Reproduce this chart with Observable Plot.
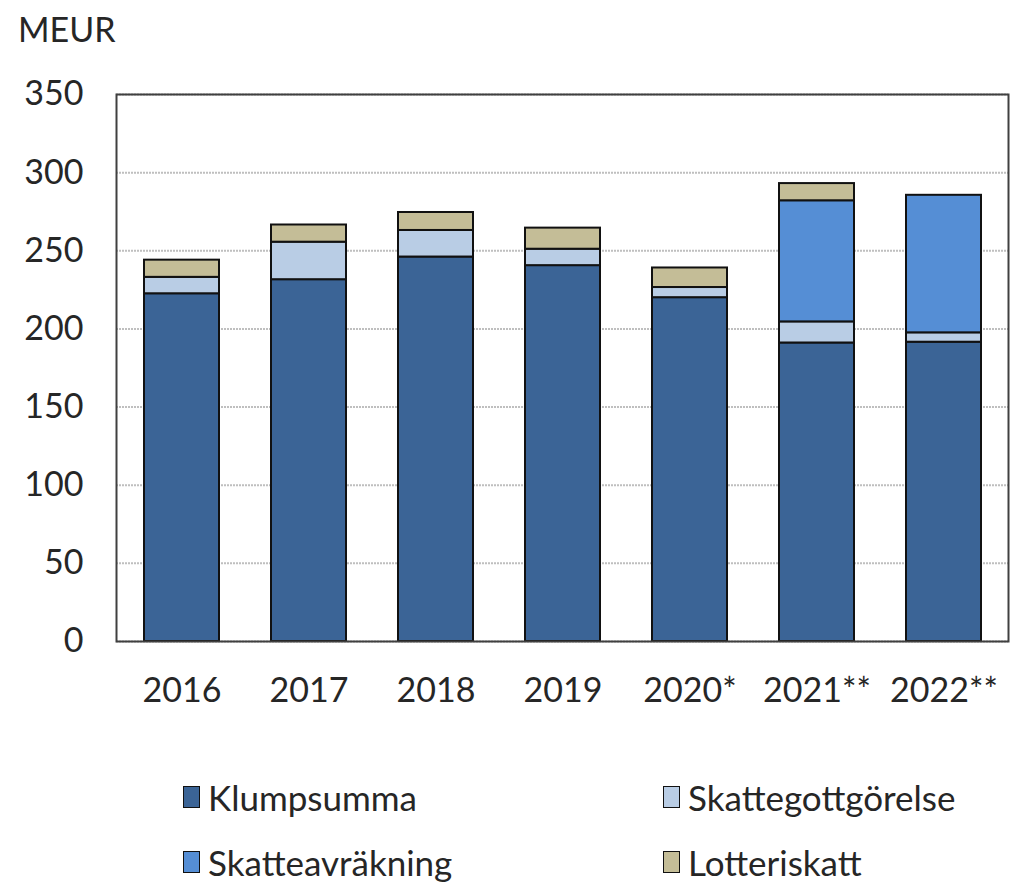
<!DOCTYPE html>
<html>
<head>
<meta charset="utf-8">
<script src="https://cdn.jsdelivr.net/npm/d3@7"></script>
<script src="https://cdn.jsdelivr.net/npm/@observablehq/plot@0.6"></script>
<style>
  html, body { margin: 0; padding: 0; background: #fff; }
  body { width: 1010px; height: 884px; overflow: hidden; font-family: Lato, "Open Sans", sans-serif; color: #262626; }
  #unit { height: 58px; line-height: 58px; padding-left: 18px; font-size: 34px; }
  #legend { position: relative; height: 144px; font-size: 35px; }
  .item { position: absolute; display: flex; align-items: center; height: 40px; }
  .sw { width: 17px; height: 22px; border: 1.5px solid #111; margin-right: 8px; box-sizing: border-box; }
</style>
</head>
<body>
<div id="unit">MEUR</div>
<div id="chart"></div>
<div id="legend"></div>
<script>
const years = ["2016", "2017", "2018", "2019", "2020*", "2021**", "2022**"];
const seriesNames = ["Klumpsumma", "Skattegottgörelse", "Skatteavräkning", "Lotteriskatt"];
const seriesColors = ["#3b6496", "#b9cde5", "#558ed5", "#c4bd97"];
const klumpsumma = [222.5, 231.5, 246, 240.5, 220, 191, 191.5];
const skattegottgorelse = [10.5, 24, 17, 10.5, 6.5, 13.5, 6];
const skatteavrakning = [0, 0, 0, 0, 0, 77.5, 88];
const lotteriskatt = [11, 11, 11.5, 13.5, 12.5, 11, 0];
const yTicks = [0, 50, 100, 150, 200, 250, 300, 350];

const seriesValues = [klumpsumma, skattegottgorelse, skatteavrakning, lotteriskatt];
const data = [];
years.forEach((yr, i) => {
  seriesNames.forEach((s, j) => {
    const v = seriesValues[j][i];
    if (v > 0) data.push({ year: yr, series: s, value: v });
  });
});

const chart = Plot.plot({
  width: 1010,
  height: 682,
  marginLeft: 116,
  marginRight: 2,
  marginTop: 36,
  marginBottom: 99,
  style: { fontFamily: "Lato, 'Open Sans', sans-serif", fontSize: "34px", color: "#262626", background: "#fff" },
  x: { domain: years, paddingInner: 0.41, paddingOuter: 0.205, label: null },
  y: { domain: [0, 350], label: null },
  color: { domain: seriesNames, range: seriesColors },
  marks: [
    Plot.gridY(yTicks, { stroke: "#bfbfbf", strokeOpacity: 1, strokeWidth: 2, strokeDasharray: "2,1" }),
    Plot.barY(data, Plot.stackY({ x: "year", y: "value", fill: "series", stroke: "#111", strokeWidth: 2, order: seriesNames })),
    Plot.frame({ stroke: "#404040", strokeWidth: 2 }),
    Plot.axisY(yTicks, { tickSize: 0, tickPadding: 33, label: null, fill: "#262626" }),
    Plot.axisX({ tickSize: 0, tickPadding: 36, label: null, fill: "#262626" })
  ]
});
document.getElementById("chart").appendChild(chart);

const legend = document.getElementById("legend");
const legendPos = [[183, 37], [663, 37], [183, 102], [663, 102]];
seriesNames.forEach((s, j) => {
  const it = document.createElement("div");
  it.className = "item";
  it.style.left = legendPos[j][0] + "px";
  it.style.top = legendPos[j][1] + "px";
  const sw = document.createElement("div");
  sw.className = "sw";
  sw.style.background = seriesColors[j];
  const tx = document.createElement("span");
  tx.textContent = s;
  it.appendChild(sw);
  it.appendChild(tx);
  legend.appendChild(it);
});
</script>
</body>
</html>
